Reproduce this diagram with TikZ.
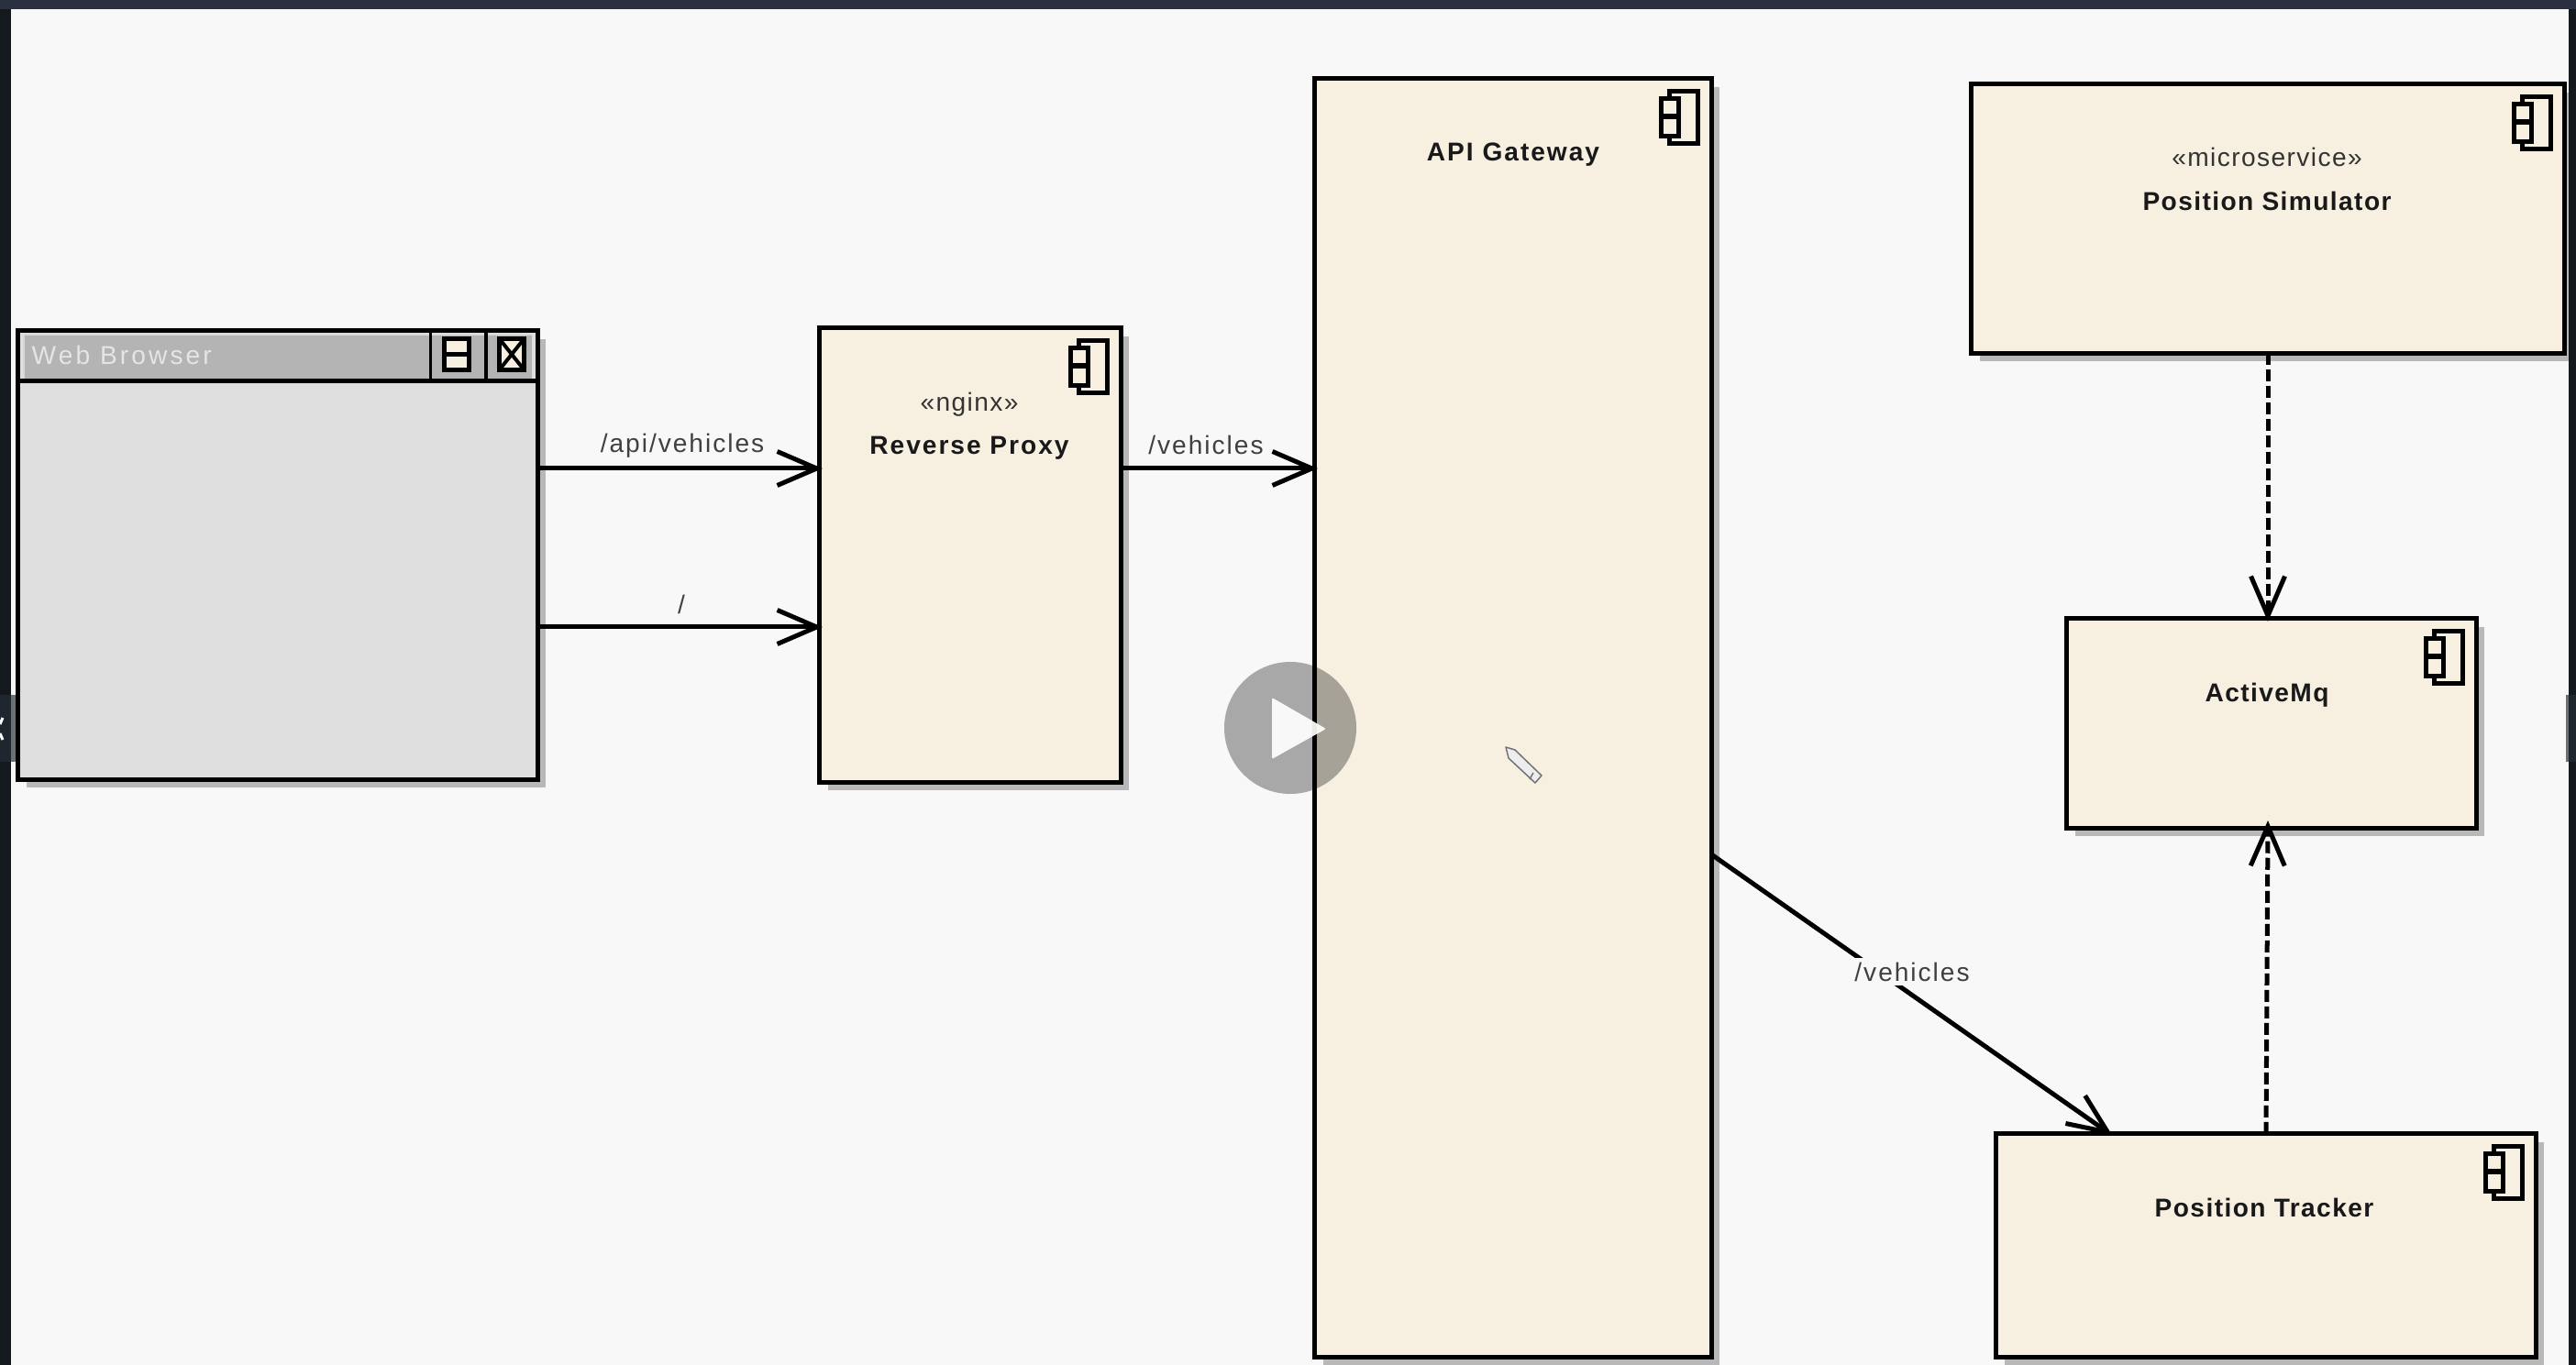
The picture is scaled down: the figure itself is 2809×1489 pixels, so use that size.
\documentclass[tikz,border=0pt]{standalone}
\usepackage{fontspec}
\setmainfont{Liberation Sans}
\newfontfamily\namefont[LetterSpace=5]{Liberation Sans}
\newfontfamily\widefont[LetterSpace=7]{Liberation Sans}
\newfontfamily\pathfont[LetterSpace=7]{Liberation Sans}
\newfontfamily\typefont[LetterSpace=5]{Liberation Sans}
\newfontfamily\titlefont[LetterSpace=11]{Liberation Sans}
\usetikzlibrary{arrows.meta,shadows}
\definecolor{pagebg}{HTML}{F8F8F8}
\definecolor{compfill}{HTML}{F7F0E1}
\definecolor{bodygray}{HTML}{DEDEDE}
\definecolor{titlegray}{HTML}{B4B4B4}
\definecolor{shadegray}{HTML}{B8B8B8}
\definecolor{topbar}{HTML}{2A3040}
\definecolor{sidebar}{HTML}{14191F}
\definecolor{tabdark}{HTML}{1F262E}
\definecolor{tabedge}{HTML}{6B7075}
\tikzset{
  boxbase/.style={draw=black, line width=0.05cm, inner sep=0pt, outer sep=0pt,
    general shadow={fill=shadegray, shadow xshift=0.09cm, shadow yshift=-0.09cm}},
  compbox/.style={boxbase, fill=compfill},
  webbox/.style={boxbase, fill=bodygray},
  titlebar/.style={draw=none, fill=titlegray, inner sep=0pt, outer sep=0pt},
  winbtn/.style={draw=black, fill=compfill, line width=0.05cm, inner sep=0pt, outer sep=0pt,
    minimum width=0.27cm, minimum height=0.34cm},
  compicon/.style={draw=black, fill=compfill, line width=0.05cm},
  compname/.style={inner sep=0pt, text=black!90, font=\namefont\bfseries\fontsize{8}{10}\selectfont},
  comptype/.style={inner sep=0pt, text=black!80, font=\typefont\fontsize{8}{10}\selectfont},
  pathname/.style={inner sep=0pt, text=black!75, font=\pathfont\fontsize{8}{10}\selectfont},
  webname/.style={inner sep=0pt, text=white!90!black, font=\titlefont\fontsize{8}{10}\selectfont},
  flow/.style={draw=black, line width=0.05cm, shorten >=-0.03cm, -{Straight Barb[length=0.43cm,width=0.37cm]}},
  dep/.style={flow, dash pattern=on 0.13cm off 0.05cm},
}
\begin{document}
\begin{tikzpicture}[x=0.01cm, y=-0.01cm]
  \useasboundingbox (0,0) rectangle (2809,1489);
  \fill[pagebg] (0,0) rectangle (2809,1489);

  % Ventana del navegador
  \node[webbox, minimum width=5.66cm, minimum height=4.89cm] (browser) at (303,605.5) {};
  \node[titlebar, minimum width=5.54cm, minimum height=0.50cm] (browserbar) at (303,390) {};
  \draw[white!85!black, line width=0.015cm] (browserbar.south west) |- (browserbar.north east);
  \draw[line width=0.05cm] (browser.west |- browserbar.south) -- (browser.east |- browserbar.south);
  \draw[line width=0.035cm] (469.5,361) -- (469.5,415) (530,361) -- (530,415);
  \node[webname, anchor=west] (browsername) at (34,387) {Web Browser};
  \node[winbtn] (splitbtn) at (498,386.5) {};
  \draw[line width=0.05cm] (splitbtn.west) -- (splitbtn.east);
  \node[winbtn] (closebtn) at (558,386.5) {};
  \draw[line width=0.04cm] (closebtn.north west) -- (closebtn.south east)
    (closebtn.north east) -- (closebtn.south west);

  % Componentes
  \node[compbox, minimum width=3.28cm, minimum height=4.95cm] (proxy) at (1058,605.5) {};
  \node[compbox, minimum width=4.32cm, minimum height=13.94cm] (gateway) at (1650,783) {};
  \node[compbox, minimum width=6.46cm, minimum height=2.93cm] (simulator) at (2473,238.5) {};
  \node[compbox, minimum width=4.46cm, minimum height=2.28cm] (activemq) at (2477,789) {};
  \node[compbox, minimum width=5.88cm, minimum height=2.43cm] (tracker) at (2471,1358.5) {};

  % Iconos de componente
  \foreach \comp in {proxy,gateway,simulator,activemq,tracker} {
    \draw[compicon, shift={(\comp.north east)}] (-46,14) rectangle (-15,71);
    \draw[compicon, shift={(\comp.north east)}] (-55,22) rectangle (-36,41);
    \draw[compicon, shift={(\comp.north east)}] (-55,42) rectangle (-36,63);
  }

  % Nombres
  \node[comptype] (proxytype) at (1057,441) {«nginx»};
  \node[compname, font=\widefont\bfseries\fontsize{8}{10}\selectfont] (proxyname) at (1057,489) {Reverse Proxy};
  \node[compname, font=\widefont\bfseries\fontsize{8}{10}\selectfont] (gatewayname) at (1650,169) {API Gateway};
  \node[comptype] (simulatortype) at (2472,171) {«microservice»};
  \node[compname] (simulatorname) at (2472,219) {Position Simulator};
  \node[compname] (activemqname) at (2472,758) {ActiveMq};
  \node[compname] (trackername) at (2469,1317) {Position Tracker};

  % Conexiones
  \draw[flow] (browser.east |- 0,511) -- (proxy.west |- 0,511);
  \draw[flow] (browser.east |- 0,684) -- (proxy.west |- 0,684);
  \draw[flow] (proxy.east |- 0,511) -- (gateway.west |- 0,511);
  \draw[flow] (gateway.east |- 0,932) -- (tracker.north -| 2301,0);
  \draw[dep] (simulator.south) -- (activemq.north -| simulator.south);
  \draw[dep] (tracker.north) -- ([yshift=0.05cm]activemq.south -| simulator.south);

  % Etiquetas de las conexiones
  \node[pathname] (apipath) at (744,486) {/api/vehicles};
  \node[pathname] (rootpath) at (743,659) {/};
  \node[pathname] (gatewaypath) at (1315,485) {/vehicles};
  \node[pathname, fill=pagebg, inner xsep=0.02cm, inner ysep=0.05cm] (trackerpath) at (2085,1060) {/vehicles};

  % Boton de reproduccion y lapiz
  \fill[black, opacity=0.32] (1407,794) circle (72);
  \fill[white, opacity=0.92, rounded corners=0.02cm] (1387,761) -- (1446,795) -- (1387,828) -- cycle;
  \filldraw[fill=black!7, draw=black!55, line width=0.015cm, line join=round]
    (1642,815) -- (1652,818) -- (1681,846) -- (1674,854) -- (1645,827) -- cycle;
  \draw[black!55, line width=0.015cm] (1672,843) -- (1668,850);

  % Bordes de la ventana
  \fill[sidebar] (0,0) rectangle (12,1489);
  \fill[sidebar] (2801,0) rectangle (2809,1489);
  \fill[topbar] (0,0) rectangle (2809,10);
  \fill[tabedge] (12,758) rectangle (17,831);
  \fill[tabdark] (0,758) rectangle (12,831);
  \fill[tabedge] (2798,758) rectangle (2801,831);
  \fill[tabdark] (2801,758) rectangle (2809,831);
  \draw[white, line width=0.03cm] (0,790) -- (3,783) (0,800) -- (3,807);
\end{tikzpicture}
\end{document}
